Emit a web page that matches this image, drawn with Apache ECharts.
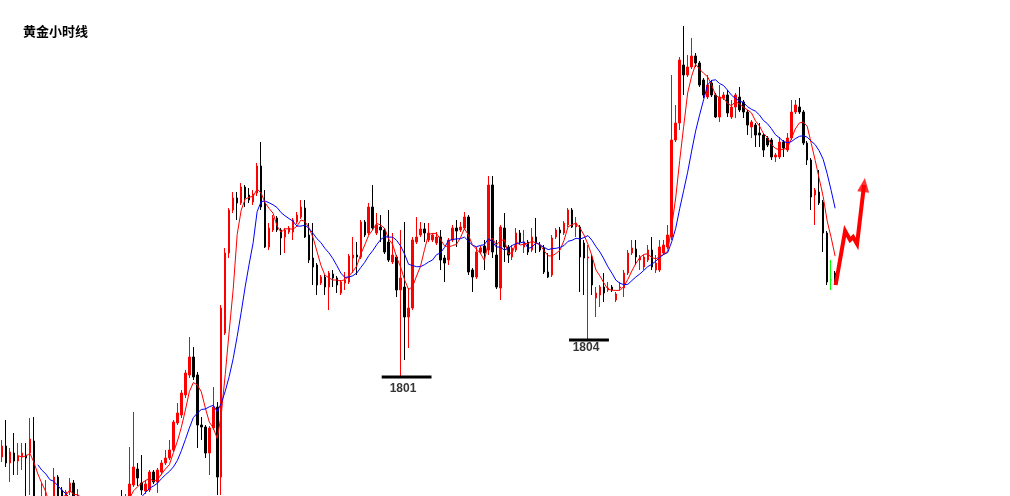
<!DOCTYPE html>
<html><head><meta charset="utf-8">
<script src="https://cdn.jsdelivr.net/npm/echarts@6/dist/echarts.min.js"></script>
<style>html,body{margin:0;padding:0;background:#fff}#c{width:1010px;height:496px}</style>
</head><body><div id="c"></div>
<script>
// Gold hourly bars (price in USD/oz)
const opens = [1794.64,1795.52,1794.16,1794.96,1794.32,1794.64,1794.80,1794.96,1795.92,1790.80,
1790.40,1790.56,1791.20,1791.20,1793.04,1792.00,1791.36,1791.84,1792.56,1790.80,
1790.80,1790.00,1788.96,1789.60,1788.64,1789.20,1789.76,1788.96,1790.00,1790.80,
1791.20,1790.80,1791.52,1792.40,1793.68,1792.56,1791.92,1792.00,1793.44,1792.64,
1793.44,1794.16,1794.56,1795.20,1797.36,1798.00,1799.60,1801.20,1802.64,1801.20,
1797.20,1797.04,1794.96,1796.96,1798.64,1793.04,1804.56,1810.96,1814.40,1815.36,
1814.96,1816.24,1815.60,1815.04,1815.76,1817.92,1814.96,1811.44,1812.80,1813.76,
1812.80,1812.24,1812.64,1812.64,1813.44,1813.84,1814.56,1812.40,1810.56,1810.00,
1808.56,1809.04,1808.24,1809.28,1808.96,1807.76,1808.56,1808.64,1810.56,1810.80,
1810.64,1813.44,1812.56,1814.64,1812.56,1813.04,1812.80,1811.84,1810.24,1810.64,
1808.00,1808.24,1805.84,1806.56,1811.84,1812.40,1812.88,1812.00,1812.00,1811.76,
1812.24,1810.56,1810.40,1812.00,1812.96,1812.80,1812.96,1813.84,1809.60,1809.04,
1811.04,1811.52,1811.20,1816.40,1810.80,1808.16,1812.96,1811.44,1810.64,1811.20,
1812.56,1811.44,1811.84,1811.20,1812.24,1811.60,1811.36,1809.44,1809.20,1812.24,
1812.80,1812.56,1813.20,1814.40,1813.04,1813.04,1811.76,1810.56,1810.64,1807.36,
1807.60,1808.24,1808.00,1808.24,1807.20,1808.16,1808.16,1809.36,1810.96,1811.28,
1810.40,1809.84,1810.40,1811.20,1809.60,1809.60,1810.96,1811.44,1812.24,1820.00,
1821.36,1826.00,1825.20,1825.84,1826.72,1826.16,1824.80,1823.44,1824.56,1823.60,
1821.84,1823.36,1823.60,1821.84,1822.64,1823.44,1823.04,1822.24,1821.04,1821.20,
1820.56,1820.40,1820.16,1820.00,1818.64,1818.64,1819.84,1819.20,1820.16,1822.24,
1822.64,1822.24,1819.76,1818.40,1815.60,1815.84,1815.04,1812.56,1808.80,1809.36];
const closes = [1795.52,1794.16,1795.04,1794.32,1794.72,1794.96,1794.56,1796.08,1790.80,1790.00,
1791.20,1791.20,1790.40,1793.04,1791.20,1791.36,1791.84,1792.56,1791.20,1791.20,
1790.00,1789.20,1789.60,1788.64,1789.20,1789.76,1788.96,1790.00,1790.80,1791.36,
1790.56,1791.44,1792.48,1793.84,1792.96,1792.00,1792.48,1793.44,1792.64,1793.60,
1794.16,1794.56,1795.20,1797.44,1798.16,1799.76,1801.36,1802.64,1801.04,1797.20,
1797.04,1794.96,1796.96,1798.64,1793.04,1806.56,1810.96,1814.40,1815.36,1814.96,
1816.24,1815.36,1815.20,1815.68,1817.92,1814.64,1811.44,1812.96,1813.76,1812.80,
1812.16,1812.80,1812.96,1813.60,1814.00,1814.64,1812.24,1810.40,1809.84,1808.40,
1809.04,1808.24,1809.36,1808.96,1808.40,1808.64,1808.80,1810.72,1810.80,1810.64,
1813.44,1812.40,1814.64,1812.96,1813.20,1812.80,1811.04,1810.40,1810.80,1808.00,
1808.96,1805.84,1806.56,1812.00,1812.24,1812.88,1812.56,1812.56,1812.40,1812.24,
1810.40,1810.16,1812.00,1812.96,1812.72,1813.04,1813.84,1809.44,1809.04,1811.04,
1811.36,1810.96,1816.40,1811.04,1808.24,1813.04,1811.44,1810.80,1811.36,1812.56,
1811.84,1811.84,1811.04,1812.24,1811.76,1811.20,1809.44,1809.04,1812.16,1812.80,
1812.56,1813.36,1814.40,1813.04,1813.36,1810.64,1810.56,1810.64,1808.40,1807.76,
1808.24,1807.76,1808.16,1808.00,1807.68,1808.24,1809.36,1810.96,1811.36,1810.64,
1810.64,1810.64,1811.20,1809.84,1810.16,1811.44,1811.60,1812.40,1820.00,1821.36,
1826.40,1825.20,1825.84,1826.72,1826.16,1824.40,1823.60,1824.40,1823.60,1821.84,
1823.44,1823.60,1822.16,1822.64,1823.60,1822.40,1822.24,1821.20,1821.44,1820.40,
1820.40,1819.20,1819.60,1818.64,1818.80,1819.84,1819.36,1820.16,1822.24,1822.80,
1822.24,1819.76,1818.40,1815.44,1816.00,1814.96,1812.56,1808.64,1808.80,1808.56];
const lows = [1794.24,1793.84,1792.64,1793.20,1793.20,1793.60,1790.80,1791.60,1790.24,1789.60,
1790.00,1790.24,1790.00,1790.96,1790.80,1790.80,1791.04,1791.60,1790.80,1790.40,
1789.60,1788.64,1788.40,1788.00,1788.16,1788.80,1788.40,1788.64,1789.60,1790.40,
1790.24,1790.40,1791.20,1792.24,1792.32,1791.60,1791.68,1791.84,1792.48,1791.76,
1793.20,1794.00,1794.40,1795.04,1797.20,1797.76,1799.36,1800.96,1800.80,1795.36,
1796.00,1794.56,1793.20,1796.80,1791.60,1791.60,1804.40,1810.56,1814.16,1813.60,
1814.80,1814.64,1814.96,1814.80,1815.52,1814.40,1811.36,1811.20,1812.64,1812.64,
1810.80,1810.96,1812.48,1812.00,1813.28,1813.68,1812.16,1810.16,1808.40,1807.60,
1808.40,1807.60,1806.40,1808.24,1807.76,1807.60,1808.00,1808.48,1809.36,1809.20,
1810.48,1812.24,1812.40,1812.80,1812.40,1811.84,1810.88,1810.24,1810.08,1807.44,
1801.04,1802.40,1803.36,1806.40,1811.68,1812.24,1811.84,1811.84,1811.84,1811.60,
1809.60,1808.64,1810.00,1811.84,1811.44,1812.64,1812.80,1809.20,1807.84,1808.88,
1810.88,1809.60,1810.80,1810.56,1808.08,1807.20,1810.24,1810.16,1810.40,1811.04,
1811.60,1810.96,1810.80,1811.04,1810.96,1811.04,1809.28,1808.96,1809.04,1812.08,
1810.40,1812.40,1813.04,1812.96,1812.24,1807.84,1807.60,1804.00,1807.60,1805.84,
1806.64,1807.04,1807.84,1807.84,1807.04,1808.00,1807.44,1809.20,1810.80,1810.00,
1809.60,1809.60,1810.24,1809.60,1809.36,1809.44,1810.80,1811.28,1812.00,1819.84,
1820.80,1823.60,1825.04,1825.68,1825.84,1824.24,1823.36,1823.28,1823.44,1821.76,
1821.44,1823.20,1821.84,1821.68,1821.76,1822.24,1821.76,1820.40,1820.16,1819.44,
1819.44,1818.64,1819.44,1818.40,1818.24,1818.48,1818.64,1819.04,1820.00,1822.08,
1822.08,1819.60,1818.00,1814.40,1813.20,1814.80,1811.04,1808.40,1808.00,1808.40];
const highs = [1796.00,1797.60,1795.36,1796.56,1795.76,1795.76,1795.76,1797.76,1797.84,1791.20,
1792.56,1792.80,1791.36,1793.76,1793.20,1792.24,1792.00,1792.96,1792.80,1792.08,
1791.20,1790.40,1790.00,1790.00,1789.60,1790.24,1790.24,1790.80,1791.20,1791.44,
1792.00,1791.68,1795.44,1798.24,1794.16,1794.80,1792.80,1793.60,1793.60,1793.76,
1794.40,1795.20,1796.00,1797.60,1798.96,1800.00,1801.60,1804.24,1803.44,1801.44,
1797.84,1797.20,1797.12,1800.24,1799.04,1806.80,1811.36,1814.56,1815.84,1815.84,
1816.56,1816.40,1816.16,1816.00,1818.16,1819.84,1816.00,1813.36,1814.00,1813.92,
1812.96,1812.96,1813.12,1813.76,1814.24,1815.20,1815.20,1813.36,1813.36,1810.16,
1809.20,1809.20,1809.52,1809.60,1809.12,1808.80,1809.44,1810.88,1812.24,1811.84,
1813.60,1813.60,1814.96,1816.40,1814.16,1814.00,1812.96,1814.40,1812.56,1810.80,
1812.80,1813.44,1808.16,1812.24,1813.84,1813.44,1813.36,1813.36,1812.56,1812.64,
1812.80,1810.80,1812.16,1813.20,1813.60,1813.44,1814.24,1814.00,1809.76,1811.44,
1811.52,1812.00,1817.12,1817.12,1812.00,1813.20,1814.16,1811.60,1811.60,1812.96,
1812.80,1812.80,1812.00,1812.96,1813.76,1811.84,1811.60,1810.96,1812.40,1812.96,
1813.04,1813.52,1814.56,1814.56,1813.84,1813.20,1812.00,1811.60,1810.80,1808.24,
1808.40,1809.36,1808.64,1808.40,1807.84,1808.64,1809.60,1811.20,1812.00,1812.00,
1810.80,1810.80,1811.60,1812.24,1810.80,1812.00,1812.00,1813.20,1825.20,1822.80,
1826.64,1829.12,1826.80,1828.16,1826.96,1826.32,1824.96,1825.20,1824.80,1823.76,
1824.40,1823.84,1824.00,1823.20,1823.76,1824.24,1823.20,1822.40,1821.60,1821.36,
1821.36,1820.56,1820.32,1820.16,1818.96,1820.24,1820.00,1820.56,1823.20,1823.20,
1823.36,1822.40,1819.92,1818.56,1816.16,1817.60,1815.20,1812.72,1810.40,1809.52];

// annotations (x in bar-index units, y in price)
const lowLabels = ['1801', '1804'];
const lowPrices = [1801.04, 1804.00];
const lowSpans = [[95.25, 107.75], [142.25, 152.25]];
const lowTextX = [100.6, 146.5];
const lowTextPrice = [1800.08, 1803.36];
const arrowX = [209.125, 211.5, 212.75, 213.5, 214.5, 216.25];
const arrowY = [1808.40, 1812.72, 1812.00, 1812.24, 1811.68, 1816.40];
const currentBar = 208;   // live bar drawn as green cross
const futureSlots = 10;   // empty hours to the right of the last bar

const N = opens.length;
const SLOTS = N + futureSlots;
const categories = Array.from({ length: SLOTS }, (_, i) => 'H' + (i + 1));

function sma(arr, n) {
  return arr.map((_, i) => {
    if (i < n - 1) return '-';
    let s = 0;
    for (let k = i - n + 1; k <= i; k++) s += arr[k];
    return +(s / n).toFixed(3);
  });
}

const candleData = opens.map((o, i) => {
  const item = { value: [o, closes[i], lows[i], highs[i]] };
  if (i === currentBar) {
    item.itemStyle = { color: '#00ff00', color0: '#00ff00', borderColor: '#00ff00', borderColor0: '#00ff00', borderColorDoji: '#00ff00' };
  }
  return item;
});

const series = [
  {
    type: 'candlestick', xAxisIndex: 0, yAxisIndex: 0,
    data: candleData, barWidth: 2,
    itemStyle: { color: '#ff0000', color0: '#000000', borderColor: '#ff0000', borderColor0: '#000000', borderColorDoji: '#000000', borderWidth: 1 }
  },
  { type: 'line', xAxisIndex: 0, data: sma(closes, 5), symbol: 'none', lineStyle: { color: '#ff0000', width: 1 }, z: 3 },
  { type: 'line', xAxisIndex: 0, data: sma(closes, 10), symbol: 'none', lineStyle: { color: '#0000ff', width: 1 }, z: 3 },
  {
    type: 'line', xAxisIndex: 1, yAxisIndex: 0, clip: false, symbol: 'none', showSymbol: false,
    data: arrowX.map((x, i) => [x, arrowY[i]]),
    lineStyle: { color: '#ff0000', width: 4, join: 'miter' }, z: 5
  },
  {
    type: 'scatter', xAxisIndex: 1, clip: false,
    data: [{ value: [arrowX[arrowX.length - 1], arrowY[arrowY.length - 1]], symbolRotate: -7 }],
    symbol: 'triangle', symbolSize: [12, 14], itemStyle: { color: '#ff0000' }, z: 6
  }
];

lowLabels.forEach((txt, k) => {
  series.push({
    type: 'line', xAxisIndex: 1, symbol: 'none', clip: false,
    data: [[lowSpans[k][0], lowPrices[k]], [lowSpans[k][1], lowPrices[k]]],
    lineStyle: { color: '#000', width: 3 }, z: 4
  });
  series.push({
    type: 'scatter', xAxisIndex: 1, clip: false, symbolSize: 1,
    itemStyle: { color: 'rgba(0,0,0,0)' },
    data: [[lowTextX[k], lowTextPrice[k]]],
    label: { show: true, position: 'inside', formatter: txt,
      fontFamily: 'Liberation Sans, Arial, sans-serif', fontWeight: 'bold', fontSize: 12, color: '#000' },
    z: 4
  });
});

const chart = echarts.init(document.getElementById('c'), null, { renderer: 'canvas' });
chart.setOption({
  animation: false,
  backgroundColor: '#ffffff',
  title: { text: '黄金小时线', left: 18, top: 20,
    textStyle: { fontFamily: 'Noto Sans CJK SC', fontSize: 13, fontWeight: 'bold', color: '#000' } },
  grid: { left: -3, width: SLOTS * 4, top: 0, bottom: 0 },
  xAxis: [
    { type: 'category', data: categories, show: false, boundaryGap: true },
    { type: 'value', min: -0.5, max: SLOTS - 0.5, show: false }
  ],
  yAxis: { type: 'value', min: 1791.52, max: 1831.2, show: false, splitLine: { show: false } },
  series: series
});
</script>
</body></html>
